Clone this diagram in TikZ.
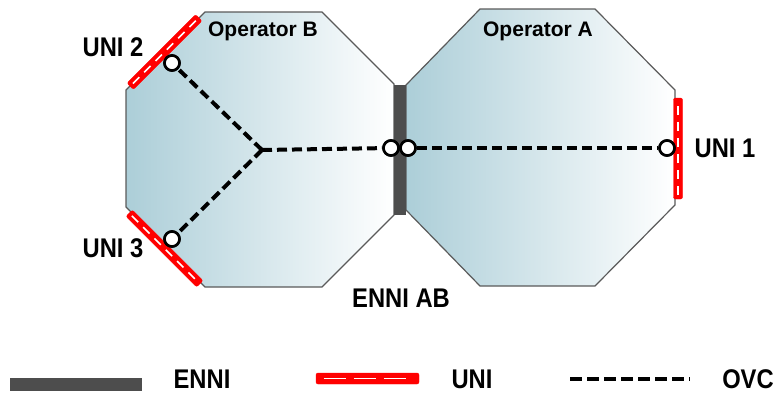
\documentclass[tikz,border=0pt]{standalone}
\usepackage{fontspec}
\setmainfont{Liberation Sans}
\newfontfamily\lblfont[FakeStretch=0.88]{Liberation Sans}
\definecolor{opblue}{RGB}{172,206,216}
\definecolor{ennigray}{RGB}{77,77,77}
\definecolor{edgegray}{RGB}{90,90,90}
\tikzset{
  opshape/.style={left color=opblue, right color=white, draw=edgegray, line width=1.2pt},
  ovc/.style={line width=4pt, dash pattern=on 10pt off 5pt},
  port/.style={circle, draw=black, fill=white, line width=2.6pt, minimum size=15pt, inner sep=0pt},
  unibar/.style={rectangle, rounded corners=2pt, fill=red, draw=red, minimum height=9pt, inner sep=0pt},
  unidash/.style={white, line width=1.6pt, dash pattern=on 9pt off 7pt, shorten <=4pt, shorten >=4pt},
  ennibar/.style={rectangle, fill=ennigray, draw=none, inner sep=0pt},
  lbl/.style={font=\lblfont\fontsize{27}{30}\selectfont\bfseries, inner sep=0pt},
  oplbl/.style={font=\fontsize{21}{24}\selectfont\bfseries, inner sep=0pt}
}
\begin{document}
\begin{tikzpicture}[x=1pt, y=-1pt]
\useasboundingbox (0,0) rectangle (780,394);
% operator B
\shade[opshape] (126,90) -- (205,12) -- (322,12) -- (394,84) -- (394,215) -- (322,287) -- (205,287) -- (126,207) -- cycle;
% operator A
\shade[opshape] (406,85) -- (480,9) -- (595,9) -- (675,90) -- (675,205) -- (595,286) -- (480,286) -- (406,210) -- cycle;
% ENNI bar
\node[ennibar, minimum width=12pt, minimum height=130pt] (enni) at (400,150) {};
% UNI bars
\node[unibar, minimum width=97pt, rotate=45] (uni2bar) at (164.5,52) {};
\draw[unidash] (uni2bar.west) -- (uni2bar.east);
\node[unibar, minimum width=100pt, rotate=-45] (uni3bar) at (164.5,248.5) {};
\draw[unidash] (uni3bar.west) -- (uni3bar.east);
\node[unibar, minimum width=101pt, rotate=90] (uni1bar) at (678,148.5) {};
\draw[unidash] (uni1bar.west) -- (uni1bar.east);
% OVC
\coordinate (j) at (262,150);
\node[port] (p2) at (172,63) {};
\node[port] (p3) at (172,239) {};
\node[port] (pb) at (391,148) {};
\node[port] (pa) at (408,148) {};
\node[port] (p1) at (667,148) {};
\draw[ovc] (j) -- (p2);
\draw[ovc] (j) -- (p3);
\draw[ovc] (j) -- (pb);
\draw[ovc] (pa) -- (p1);
\node[port] at (p2) {};
\node[port] at (p3) {};
\node[port] at (pb) {};
\node[port] at (pa) {};
\node[port] at (p1) {};
% labels
\node[oplbl] (opb) at (263,31) {Operator B};
\node[oplbl] (opa) at (538,31) {Operator A};
\node[lbl] (l2) at (113,47) {UNI 2};
\node[lbl] (l3) at (113,248) {UNI 3};
\node[lbl] (l1) at (725,148) {UNI 1};
\node[lbl] (lab) at (401,298) {ENNI AB};
% legend
\node[ennibar, minimum width=132pt, minimum height=13pt] (legenni) at (76,384.5) {};
\node[lbl] (legennit) at (202,379) {ENNI};
\node[unibar, minimum width=103pt, minimum height=11pt] (leguni) at (367.5,378.5) {};
\draw[unidash, dash pattern=on 22pt off 8pt, shorten <=8pt, shorten >=8pt] (leguni.west) -- (leguni.east);
\node[lbl] (legunit) at (472,379) {UNI};
\coordinate (ovca) at (570,379);
\coordinate (ovcb) at (690,379);
\draw[ovc, dash pattern=on 12pt off 5pt] (ovca) -- (ovcb);
\node[lbl] (legovct) at (748,379) {OVC};
\end{tikzpicture}
\end{document}
